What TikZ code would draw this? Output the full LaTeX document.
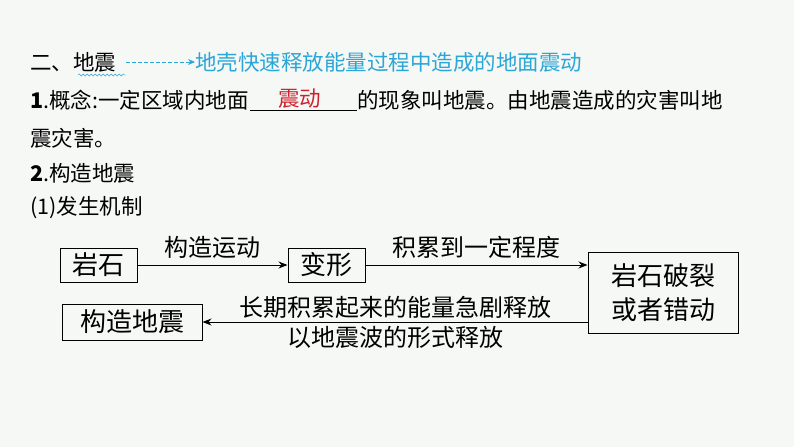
\documentclass[tikz,border=0pt]{standalone}
\usepackage{fontspec}
\setmainfont{Liberation Serif}
\newfontfamily\cjk{Noto Sans CJK SC}
\usetikzlibrary{arrows.meta,decorations.pathmorphing}
\definecolor{bg}{HTML}{F6F8F6}
\definecolor{cy}{HTML}{2BA6D6}
\definecolor{rd}{HTML}{D0202A}
\begin{document}
\begin{tikzpicture}[x=1pt,y=-1pt,
  txt/.style={anchor=west,inner sep=0,font=\cjk\fontsize{21.5}{24}\selectfont},
  box/.style={draw,line width=1pt,inner sep=0,font=\cjk\fontsize{26}{34}\selectfont,align=center},
  lbl/.style={inner sep=0,font=\cjk\fontsize{24}{30}\selectfont},
  arr/.style={line width=1pt,-{Stealth[length=9pt,width=7pt]}}]
\fill[bg] (0,0) rectangle (794,447);
\useasboundingbox (0,0) rectangle (794,447);
\node[txt] (t1) at (30,62) {二、地震};
\draw[cy,decorate,decoration={snake,amplitude=1pt,segment length=4pt}] (78,75) -- (126,75);
\node[txt,cy] (t1b) at (195,62) {地壳快速释放能量过程中造成的地面震动};
\draw[cy,line width=1pt,dashed,dash pattern=on 4pt off 2pt,-{Stealth[length=7pt,width=6pt]}] (t1.east)++(10,0) coordinate (da) -- (t1b.west);
\node[txt] (t2) at (30,100) {\textbf{1}.概念:一定区域内地面};
\node[txt] (t2b) at (357,100) {的现象叫地震。由地震造成的灾害叫地};
\draw[line width=0.8pt] (t2.east) ++(1,10) coordinate (ua) -- (t2b.west |- ua);
\node[txt,rd] (red) at (278,99) {震动};
\node[txt] (t3) at (30,138) {震灾害。};
\node[txt] (t4) at (30,173) {\textbf{2}.构造地震};
\node[txt] (t5) at (30,208) {(1)发生机制};
\node[box,minimum width=77pt,minimum height=34pt] (ys) at (98.5,265) {岩石};
\node[box,minimum width=77pt,minimum height=34pt] (bx) at (326.5,265) {变形};
\node[box,minimum width=150pt,minimum height=81pt] (pl) at (663,292.5) {岩石破裂\\或者错动};
\node[box,minimum width=140pt,minimum height=36pt] (gz) at (132,322) {构造地震};
\draw[arr] (ys) -- node[lbl,above=6pt] {构造运动} (bx);
\draw[arr] (bx) -- node[lbl,above=6pt] {积累到一定程度} (bx -| pl.west);
\draw[arr] (gz -| pl.west) -- node[lbl,above=3pt] {长期积累起来的能量急剧释放}
  node[lbl,below=4pt] {以地震波的形式释放} (gz);
\end{tikzpicture}
\end{document}
